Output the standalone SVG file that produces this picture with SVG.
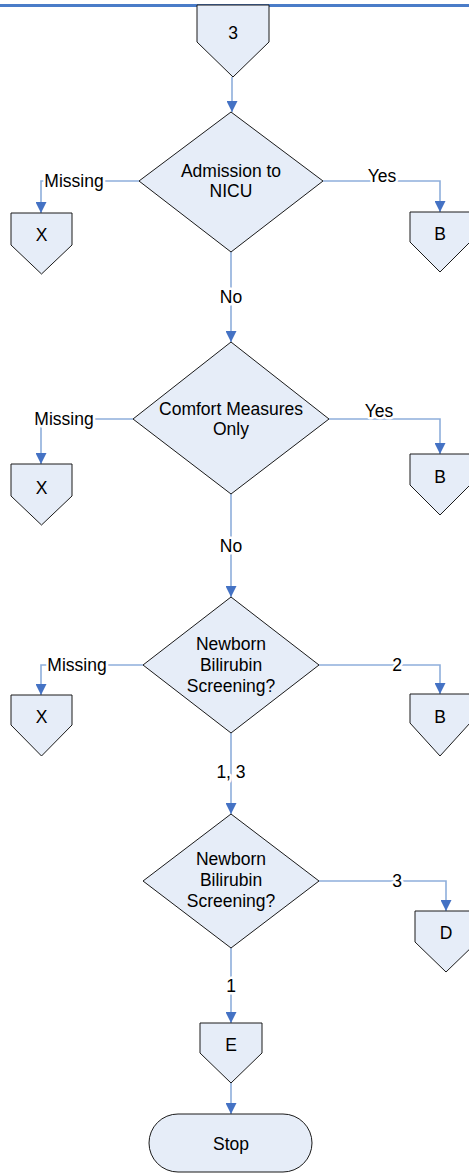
<svg xmlns="http://www.w3.org/2000/svg" width="469" height="1173" viewBox="0 0 469 1173">
<style>
.s{fill:#e6edf8;stroke:#1a1a1a;stroke-width:1}
.t{font-family:"Liberation Sans",Arial,sans-serif;font-size:17.5px;fill:#000;text-anchor:middle}
.c{fill:none;stroke:#8eaedb;stroke-width:1.6}
.l{font-family:"Liberation Sans",Arial,sans-serif;font-size:17.5px;fill:#000;text-anchor:middle;stroke:#fff;stroke-width:5;paint-order:stroke;stroke-linejoin:round}
</style>
<defs>
<marker id="a" markerUnits="userSpaceOnUse" markerWidth="12" markerHeight="11" refX="11" refY="5.5" orient="auto">
<path d="M0,0 L11,5.5 L0,11 z" fill="#4472c4"/>
</marker>
</defs>
<line x1="0" y1="5.5" x2="469" y2="5.5" stroke="#4a7cc8" stroke-width="3"/>
<g id="connectors">
<polyline class="c" points="232,77 232,112" marker-end="url(#a)"/>
<polyline class="c" points="139,181 41,181 41,213" marker-end="url(#a)"/>
<polyline class="c" points="323,181 440,181 440,212" marker-end="url(#a)"/>
<polyline class="c" points="231,252 231,342" marker-end="url(#a)"/>
<polyline class="c" points="133,419 41,419 41,464" marker-end="url(#a)"/>
<polyline class="c" points="329,419 440,419 440,454" marker-end="url(#a)"/>
<polyline class="c" points="231,494 231,597" marker-end="url(#a)"/>
<polyline class="c" points="143,665 41,665 41,695" marker-end="url(#a)"/>
<polyline class="c" points="319,665 440,665 440,694" marker-end="url(#a)"/>
<polyline class="c" points="231,733 231,814" marker-end="url(#a)"/>
<polyline class="c" points="319,881 446,881 446,911" marker-end="url(#a)"/>
<polyline class="c" points="231,948 231,1023" marker-end="url(#a)"/>
<polyline class="c" points="231,1083 231,1114" marker-end="url(#a)"/>
<text class="l" x="74" y="187">Missing</text>
<text class="l" x="382" y="182">Yes</text>
<text class="l" x="231" y="303">No</text>
<text class="l" x="64" y="425">Missing</text>
<text class="l" x="379" y="417">Yes</text>
<text class="l" x="231" y="552">No</text>
<text class="l" x="77" y="671">Missing</text>
<text class="l" x="397" y="671">2</text>
<text class="l" x="231" y="778">1, 3</text>
<text class="l" x="397" y="887">3</text>
<text class="l" x="231" y="992">1</text>
</g>
<g id="n3"><polygon class="s" points="197,5 269,5 269,42 233,77 197,42"/><text class="t" x="233" y="39">3</text></g>
<g id="d1"><polygon class="s" points="231,112 323,181 231,252 139,181"/><text class="t" x="231" y="176.5">Admission to</text><text class="t" x="231" y="197">NICU</text></g>
<g id="x1"><polygon class="s" points="11,213 72,213 72,245 41.5,274 11,245"/><text class="t" x="41.5" y="241">X</text></g>
<g id="b1"><polygon class="s" points="410,212 470,212 470,242 440,272 410,242"/><text class="t" x="440" y="240">B</text></g>
<g id="d2"><polygon class="s" points="231,342 329,419 231,494 133,419"/><text class="t" x="231" y="415">Comfort Measures</text><text class="t" x="231" y="435">Only</text></g>
<g id="x2"><polygon class="s" points="11,464 72,464 72,496 41.5,525 11,496"/><text class="t" x="41.5" y="494">X</text></g>
<g id="b2"><polygon class="s" points="410,454 470,454 470,485 440,515 410,485"/><text class="t" x="440" y="483">B</text></g>
<g id="d3"><polygon class="s" points="231,597 319,665 231,733 143,665"/><text class="t" x="231" y="650">Newborn</text><text class="t" x="231" y="671">Bilirubin</text><text class="t" x="231" y="692">Screening?</text></g>
<g id="x3"><polygon class="s" points="11,695 72,695 72,725 41.5,756 11,725"/><text class="t" x="41.5" y="723">X</text></g>
<g id="b3"><polygon class="s" points="410,694 470,694 470,723 440,756 410,723"/><text class="t" x="440" y="723">B</text></g>
<g id="d4"><polygon class="s" points="231,814 319,881 231,948 143,881"/><text class="t" x="231" y="865">Newborn</text><text class="t" x="231" y="886">Bilirubin</text><text class="t" x="231" y="907">Screening?</text></g>
<g id="dD"><polygon class="s" points="415,911 477,911 477,942 446,972 415,942"/><text class="t" x="446" y="939">D</text></g>
<g id="e"><polygon class="s" points="200,1023 262,1023 262,1053 231,1083 200,1053"/><text class="t" x="231" y="1051">E</text></g>
<g id="stop"><rect class="s" x="149" y="1114" width="163" height="58" rx="29"/><text class="t" x="231" y="1150">Stop</text></g>
</svg>
